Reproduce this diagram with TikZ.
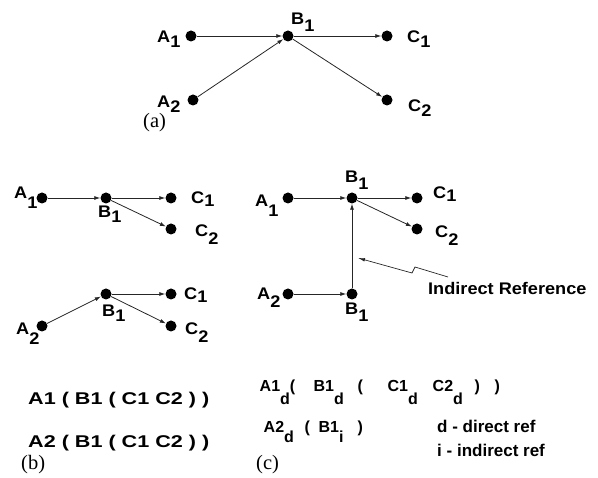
\documentclass[tikz,border=0pt]{standalone}
\usepackage{fontspec}
\setmainfont{Liberation Serif}
\newfontfamily\lblfont[FakeStretch=1.08]{Liberation Sans}
\newfontfamily\bfont[FakeStretch=1.27]{Liberation Sans}
\newfontfamily\cfont{Liberation Sans}
\usetikzlibrary{arrows.meta}
\newcommand\sbl[3]{#1\raisebox{-#2pt}{#3}}
\newcommand\tok[2]{\rlap{\hspace{#1pt}#2}}
\tikzset{
  dot/.style={circle,fill=black,inner sep=0pt,minimum size=11pt},
  arr/.style={draw=black!85,line width=0.8pt,-{Latex[length=6pt,width=4pt]}},
  lab/.style={inner sep=0pt,anchor=base west,font=\lblfont\bfseries\fontsize{16.8}{18}\selectfont},
  captxt/.style={inner sep=0pt,anchor=base west,font=\fontsize{20.5}{24}\selectfont},
  frmb/.style={inner sep=0pt,anchor=base west,font=\bfont\bfseries\fontsize{17}{20}\selectfont},
  frmc/.style={inner sep=0pt,anchor=base west,font=\cfont\bfseries\fontsize{16}{19}\selectfont},
  leg/.style={inner sep=0pt,anchor=base west,font=\cfont\bfseries\fontsize{17}{20}\selectfont}
}
\begin{document}
\begin{tikzpicture}[x=1pt,y=-1pt]
\useasboundingbox (0,0) rectangle (598,478);
% ---------- (a)
\node[dot] (aA1) at (191,36) {};
\node[dot] (aB1) at (288,36) {};
\node[dot] (aC1) at (387,36) {};
\node[dot] (aA2) at (193,100) {};
\node[dot] (aC2) at (387,100) {};
\node[lab] (laA1) at (157,43) {\sbl{A}{5}{1}};
\node[lab] (laB1) at (291,25) {\sbl{B}{7}{1}};
\node[lab] (laC1) at (407,43) {\sbl{C}{5}{1}};
\node[lab] (laA2) at (157,108) {\sbl{A}{5}{2}};
\node[lab] (laC2) at (408,112) {\sbl{C}{5}{2}};
\draw[arr] (aA1) -- (aB1);
\draw[arr] (aA2) -- (aB1);
\draw[arr] (aB1) -- (aC1);
\draw[arr] (aB1) -- (aC2);
\node[captxt] (capa) at (143,128) {(a)};
% ---------- (b)
\node[dot] (bA1) at (42,198) {};
\node[dot] (bB1) at (106,198) {};
\node[dot] (bC1) at (171,198) {};
\node[dot] (bC2) at (171,229) {};
\node[dot] (bA2) at (42,326) {};
\node[dot] (bB1x) at (106,294) {};
\node[dot] (bC1x) at (171,294) {};
\node[dot] (bC2x) at (171,326) {};
\node[lab] (lbA1) at (14,199) {\sbl{A}{10}{1}};
\node[lab] (lbB1) at (98,218) {\sbl{B}{5}{1}};
\node[lab] (lbC1) at (191,204) {\sbl{C}{3}{1}};
\node[lab] (lbC2) at (195,237) {\sbl{C}{8}{2}};
\node[lab] (lbA2) at (16,335) {\sbl{A}{10}{2}};
\node[lab] (lbB1x) at (102,317) {\sbl{B}{5}{1}};
\node[lab] (lbC1x) at (184,300) {\sbl{C}{3}{1}};
\node[lab] (lbC2x) at (185,335) {\sbl{C}{8}{2}};
\draw[arr] (bA1) -- (bB1);
\draw[arr] (bB1) -- (bC1);
\draw[arr] (bB1) -- (bC2);
\draw[arr] (bA2) -- (bB1x);
\draw[arr] (bB1x) -- (bC1x);
\draw[arr] (bB1x) -- (bC2x);
\node[frmb] (fb1) at (28,405) {A1 ( B1 ( C1 C2 ) )};
\node[frmb] (fb2) at (28,448) {A2 ( B1 ( C1 C2 ) )};
\node[captxt] (capb) at (21,470) {(b)};
% ---------- (c)
\node[dot] (cA1) at (288,198) {};
\node[dot] (cB1) at (352,198) {};
\node[dot] (cC1) at (417,198) {};
\node[dot] (cC2) at (417,229) {};
\node[dot] (cA2) at (288,294) {};
\node[dot] (cB1x) at (352,294) {};
\node[lab] (lcA1) at (255,207) {\sbl{A}{10}{1}};
\node[lab] (lcB1) at (345,183) {\sbl{B}{7}{1}};
\node[lab] (lcC1) at (433,199) {\sbl{C}{3}{1}};
\node[lab] (lcC2) at (435,238) {\sbl{C}{8}{2}};
\node[lab] (lcA2) at (257,300) {\sbl{A}{8}{2}};
\node[lab] (lcB1x) at (345,315) {\sbl{B}{7}{1}};
\draw[arr] (cA1) -- (cB1);
\draw[arr] (cB1) -- (cC1);
\draw[arr] (cB1) -- (cC2);
\draw[arr] (cA2) -- (cB1x);
\draw[arr] (cB1x) -- (cB1);
\node[lab] (ind) at (428,295) {Indirect Reference};
\coordinate (z0) at (448,277);
\coordinate (z1) at (415,267);
\coordinate (z2) at (412,273);
\coordinate (z3) at (358,258);
\draw[arr,line width=0.7pt,-{Latex[length=7pt,width=3.5pt]}] (z0) -- (z1) -- (z2) -- (z3);
\node[frmc] (fc1) at (259,392) {\tok{0}{A1\raisebox{-13pt}{d}(}\tok{54}{B1\raisebox{-13pt}{d}}\tok{98}{(}\tok{128}{C1\raisebox{-13pt}{d}}\tok{173}{C2\raisebox{-13pt}{d}}\tok{215}{)}\tok{235}{)}\hspace{241pt}};
\node[frmc] (fc2) at (263,433) {\tok{0}{A2\raisebox{-10pt}{d}}\tok{41}{(}\tok{55}{B1\raisebox{-10pt}{i}}\tok{94}{)}\hspace{100pt}};
\node[leg] (lg1) at (437,433) {d - direct ref};
\node[leg] (lg2) at (437,457) {i - indirect ref};
\node[captxt] (capc) at (256,470) {(c)};
\end{tikzpicture}
\end{document}
